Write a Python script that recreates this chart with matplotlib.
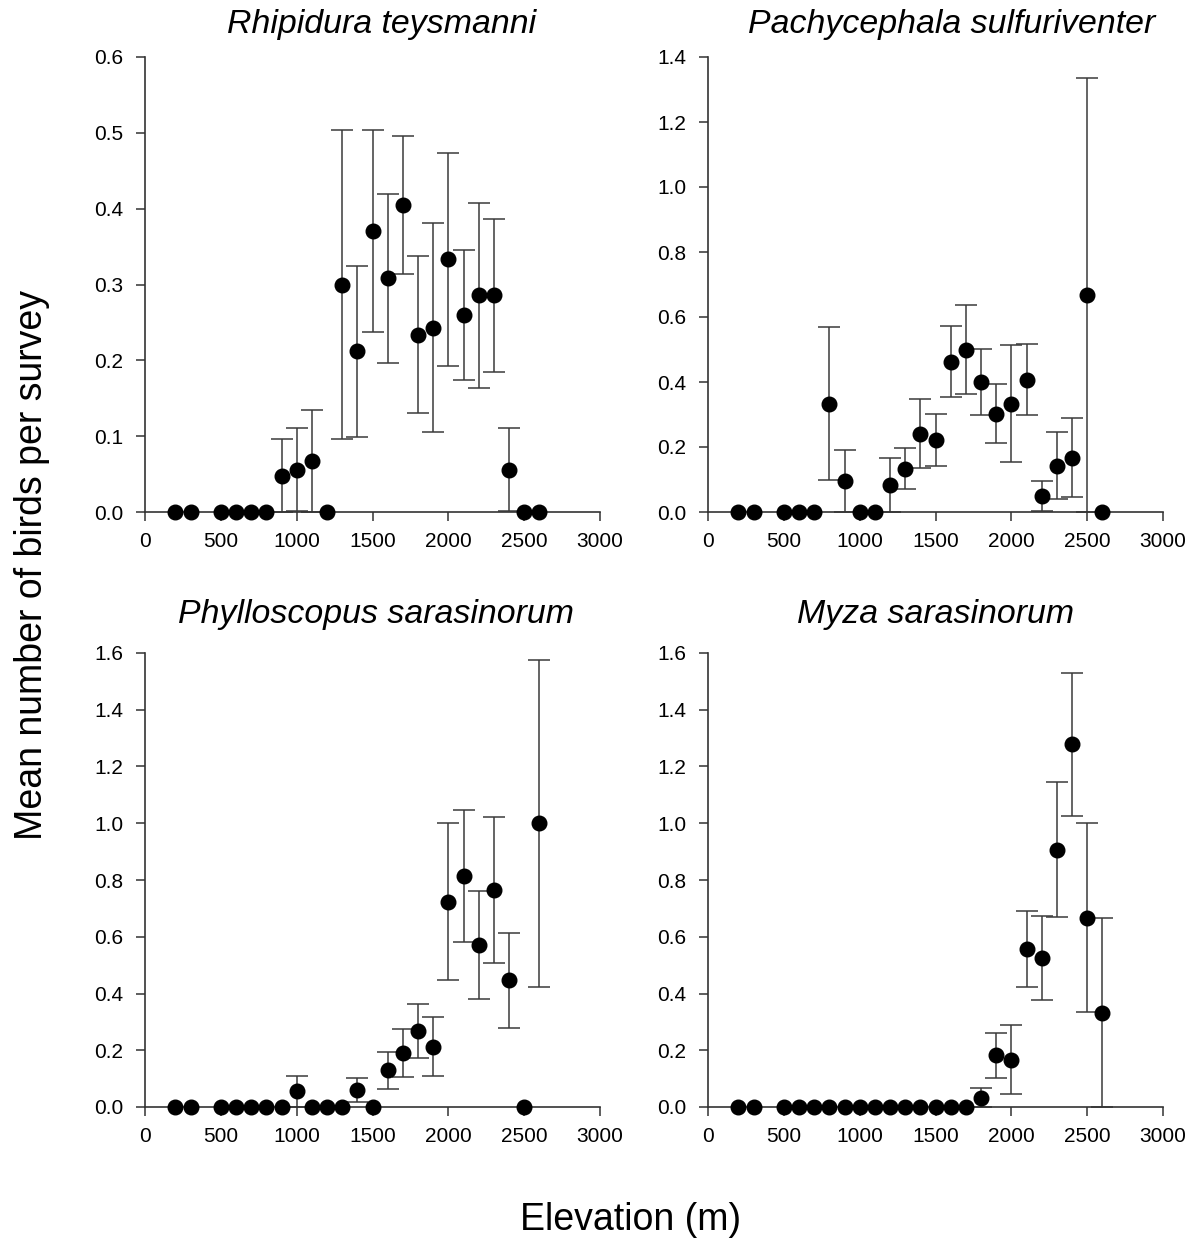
import matplotlib.pyplot as plt
import numpy as np

plt.rcParams['font.family'] = ['Liberation Sans', 'DejaVu Sans']

# elevation bands (m) and survey means +- SE for each species
elev = [200, 300, 500, 600, 700, 800, 900, 1000, 1100, 1200, 1300, 1400,
        1500, 1600, 1700, 1800, 1900, 2000, 2100, 2200, 2300, 2400, 2500, 2600]

rhip_mean = [0, 0, 0, 0, 0, 0, 0.048, 0.056, 0.067, 0, 0.300, 0.212,
             0.371, 0.308, 0.405, 0.234, 0.243, 0.333, 0.260, 0.286, 0.286, 0.056, 0, 0]
rhip_se = [0, 0, 0, 0, 0, 0, 0.048, 0.055, 0.067, 0, 0.204, 0.113,
           0.133, 0.111, 0.091, 0.104, 0.138, 0.140, 0.086, 0.122, 0.101, 0.055, 0, 0]

pach_mean = [0, 0, 0, 0, 0, 0.333, 0.095, 0, 0, 0.083, 0.133, 0.241,
             0.222, 0.462, 0.500, 0.400, 0.303, 0.333, 0.407, 0.048, 0.143, 0.167, 0.667, 0]
pach_se = [0, 0, 0, 0, 0, 0.236, 0.095, 0, 0, 0.084, 0.063, 0.107,
           0.081, 0.109, 0.137, 0.103, 0.092, 0.180, 0.110, 0.046, 0.104, 0.121, 0.667, 0]

phyl_mean = [0, 0, 0, 0, 0, 0, 0, 0.056, 0, 0, 0, 0.061,
             0, 0.129, 0.191, 0.268, 0.212, 0.724, 0.815, 0.572, 0.764, 0.446, 0, 1.000]
phyl_se = [0, 0, 0, 0, 0, 0, 0, 0.055, 0, 0, 0, 0.042,
           0, 0.066, 0.085, 0.095, 0.104, 0.277, 0.233, 0.190, 0.257, 0.167, 0, 0.577]

myza_mean = [0, 0, 0, 0, 0, 0, 0, 0, 0, 0, 0, 0,
             0, 0, 0, 0.033, 0.182, 0.167, 0.556, 0.524, 0.907, 1.279, 0.667, 0.333]
myza_se = [0, 0, 0, 0, 0, 0, 0, 0, 0, 0, 0, 0,
           0, 0, 0, 0.033, 0.080, 0.121, 0.134, 0.148, 0.238, 0.252, 0.333, 0.333]

species = ['Rhipidura teysmanni', 'Pachycephala sulfuriventer',
           'Phylloscopus sarasinorum', 'Myza sarasinorum']
means = [rhip_mean, pach_mean, phyl_mean, myza_mean]
ses = [rhip_se, pach_se, phyl_se, myza_se]
ytops = [0.6, 1.4, 1.6, 1.6]
ysteps = [0.1, 0.2, 0.2, 0.2]

W, H = 1200, 1243
fig = plt.figure(figsize=(W / 100, H / 100), dpi=100)

# axes boxes in pixels: left, top of data area
boxes = [(145, 57), (708, 57), (145, 653), (708, 653)]
box_w = 455
box_h = [455, 455, 454, 454]
title_pos = [(382, 24), (952, 24), (376, 615), (936, 615)]

for i in range(4):
    left, top = boxes[i]
    ax = fig.add_axes([left / W, 1 - (top + box_h[i]) / H, box_w / W, box_h[i] / H])
    x = np.array(elev)
    y = np.array(means[i])
    e = np.array(ses[i])
    has_err = e > 0
    # error bars are clipped at zero, the dots are not
    ax.errorbar(x[has_err], y[has_err], yerr=e[has_err], fmt='none',
                ecolor='#3a3a3a', elinewidth=1.1, capsize=8, capthick=1.1, zorder=2)
    ax.plot(x, y, 'o', color='black', markersize=10.5, clip_on=False, zorder=5)

    ax.set_xlim(0, 3000)
    ax.set_ylim(0, ytops[i])
    ax.set_xticks(np.arange(0, 3001, 500))
    ax.set_yticks(np.arange(0, ytops[i] + 1e-9, ysteps[i]))
    ax.yaxis.set_major_formatter(plt.FormatStrFormatter('%.1f'))
    for s in ['top', 'right']:
        ax.spines[s].set_visible(False)
    for s in ['left', 'bottom']:
        ax.spines[s].set_linewidth(1.2)
        ax.spines[s].set_color('#333333')
    ax.tick_params(direction='out', length=6.5, width=1.1, color='#333333',
                   labelsize=15)
    ax.tick_params(axis='y', pad=9)
    ax.tick_params(axis='x', pad=8)

    tx, ty = title_pos[i]
    fig.text(tx / W, 1 - ty / H, species[i], style='italic', fontsize=24.4,
             ha='center', va='center')

fig.text(32 / W, 1 - 565 / H, 'Mean number of birds per survey', rotation=90,
         fontsize=27, ha='center', va='center')
fig.text(631 / W, 1 - 1220 / H, 'Elevation (m)', fontsize=27,
         ha='center', va='center')

plt.savefig('out.png', dpi=100)
